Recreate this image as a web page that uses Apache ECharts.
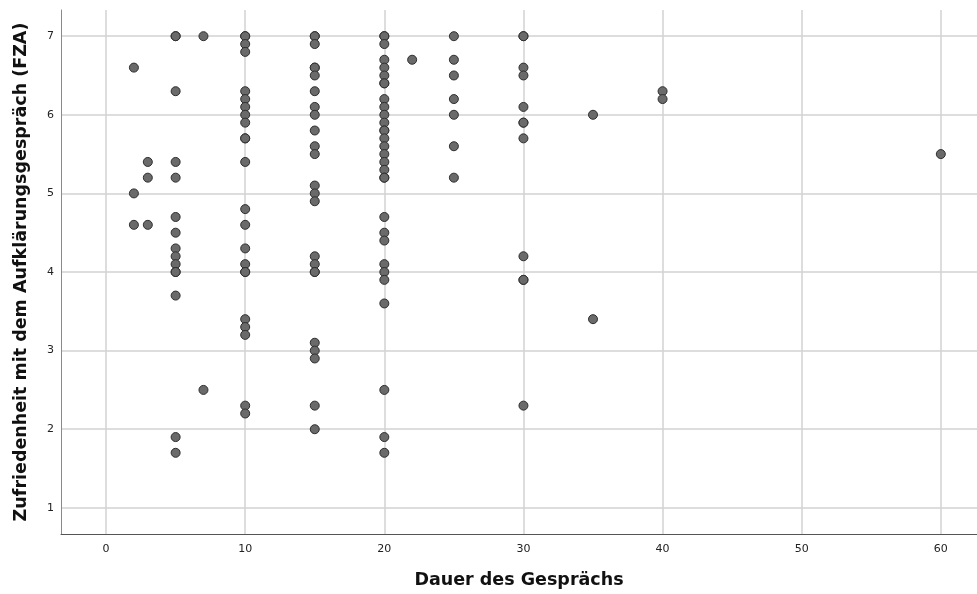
<!DOCTYPE html>
<html>
<head>
<meta charset="utf-8">
<script src="https://cdn.jsdelivr.net/npm/echarts@6/dist/echarts.min.js"></script>
<style>
html,body{margin:0;padding:0;background:#fff;}
#chart{width:977px;height:594px;}
</style>
</head>
<body>
<div id="chart"></div>
<script>
// Data (duration in minutes, satisfaction score FZA)
const duration = [
  2, 2, 2,
  3, 3, 3,
  5, 5, 5, 5, 5, 5, 5, 5, 5, 5, 5, 5, 5, 5, 5,
  7, 7,
  10, 10, 10, 10, 10, 10, 10, 10, 10, 10, 10, 10, 10, 10, 10, 10, 10, 10, 10, 10, 10, 10, 10,
  15, 15, 15, 15, 15, 15, 15, 15, 15, 15, 15, 15, 15, 15, 15, 15, 15, 15, 15, 15, 15, 15, 15, 15,
  20, 20, 20, 20, 20, 20, 20, 20, 20, 20, 20, 20, 20, 20, 20, 20, 20, 20, 20, 20, 20, 20, 20, 20, 20, 20, 20, 20, 20, 20, 20,
  22,
  25, 25, 25, 25, 25, 25, 25,
  30, 30, 30, 30, 30, 30, 30, 30, 30, 30, 30, 30,
  35, 35,
  40, 40,
  60
];
const satisfaction = [
  6.6, 5.0, 4.6,
  5.4, 5.2, 4.6,
  7.0, 7.0, 6.3, 5.4, 5.2, 4.7, 4.5, 4.3, 4.2, 4.1, 4.0, 4.0, 3.7, 1.9, 1.7,
  7.0, 2.5,
  7.0, 7.0, 6.9, 6.8, 6.3, 6.2, 6.1, 6.0, 5.9, 5.7, 5.7, 5.4, 4.8, 4.6, 4.3, 4.1, 4.0, 4.0, 3.4, 3.3, 3.2, 2.3, 2.2,
  7.0, 7.0, 6.9, 6.6, 6.6, 6.5, 6.3, 6.1, 6.0, 5.8, 5.6, 5.5, 5.1, 5.0, 4.9, 4.2, 4.1, 4.0, 4.0, 3.1, 3.0, 2.9, 2.3, 2.0,
  7.0, 7.0, 6.9, 6.7, 6.6, 6.5, 6.4, 6.4, 6.2, 6.1, 6.0, 5.9, 5.8, 5.8, 5.7, 5.6, 5.5, 5.4, 5.3, 5.2, 5.2, 4.7, 4.5, 4.4, 4.1, 4.0, 3.9, 3.6, 2.5, 1.9, 1.7,
  6.7,
  7.0, 6.7, 6.5, 6.2, 6.0, 5.6, 5.2,
  7.0, 7.0, 6.6, 6.5, 6.1, 5.9, 5.9, 5.7, 4.2, 3.9, 3.9, 2.3,
  6.0, 3.4,
  6.3, 6.2,
  5.5
];
const xTicks = [0, 10, 20, 30, 40, 50, 60];
const yTicks = [1, 2, 3, 4, 5, 6, 7];
const xTitle = 'Dauer des Gesprächs';
const yTitle = 'Zufriedenheit mit dem Aufklärungsgespräch (FZA)';

const points = duration.map((d, i) => [d, satisfaction[i]]);

const chart = echarts.init(document.getElementById('chart'), null, {renderer: 'canvas'});
const labelStyle = {color: '#222', fontSize: 11, fontFamily: 'DejaVu Sans'};
const nameStyle = {color: '#111', fontSize: 17.5, fontWeight: 'bold', fontFamily: 'DejaVu Sans'};

chart.setOption({
  animation: false,
  backgroundColor: '#fff',
  grid: {left: 61, right: 0, top: 10, bottom: 60, containLabel: false},
  xAxis: {
    type: 'value',
    min: -3.24, max: 62.6,
    name: xTitle,
    nameLocation: 'middle',
    nameGap: 37,
    nameTextStyle: nameStyle,
    axisLine: {show: true, onZero: false, lineStyle: {color: '#555', width: 1}},
    axisTick: {show: false, customValues: xTicks},
    axisLabel: Object.assign({customValues: xTicks, margin: 10}, labelStyle),
    splitLine: {show: true, lineStyle: {color: '#d2d2d2', width: 1.5}}
  },
  yAxis: {
    type: 'value',
    min: 0.667, max: 7.333,
    name: yTitle,
    nameLocation: 'middle',
    nameGap: 31,
    nameRotate: 90,
    nameTextStyle: nameStyle,
    axisLine: {show: true, onZero: false, lineStyle: {color: '#8a8a8a', width: 1}},
    axisTick: {show: false, customValues: yTicks},
    axisLabel: Object.assign({customValues: yTicks, margin: 7}, labelStyle),
    splitLine: {show: true, lineStyle: {color: '#d2d2d2', width: 1.5}}
  },
  series: [{
    type: 'scatter',
    data: points,
    symbol: 'circle',
    symbolSize: 9,
    itemStyle: {color: '#6a6a6a', borderColor: '#2e2e2e', borderWidth: 1, opacity: 1}
  }]
});
</script>
</body>
</html>
